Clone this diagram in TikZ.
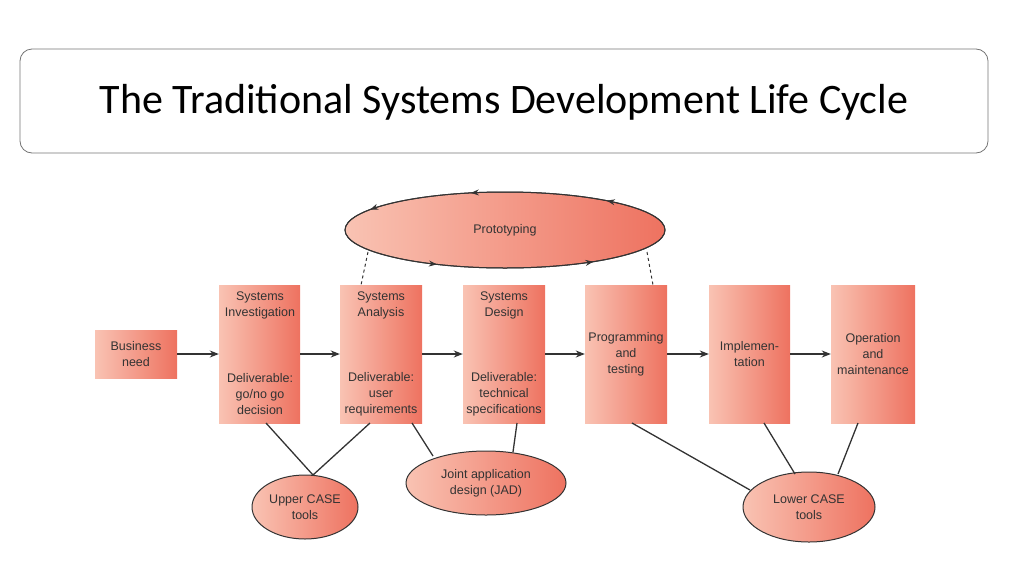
\documentclass[tikz,border=0pt]{standalone}
\usepackage{fontspec}
\setmainfont{Carlito}
\newfontfamily\lab{Liberation Sans}
\usetikzlibrary{arrows.meta,decorations.markings,shapes.geometric}
\definecolor{lite}{HTML}{F9C3B3}
\definecolor{dark}{HTML}{EE7260}
\definecolor{txt}{HTML}{333333}
\tikzset{
 sbox/.style={draw=none,left color=lite,right color=dark,minimum width=#1,inner sep=0pt,font=\lab\fontsize{12.5}{16}\selectfont,text=txt,align=center},
 ell/.style={ellipse,draw=txt,line width=1pt,left color=lite,right color=dark,font=\lab\fontsize{12.5}{16}\selectfont,text=txt,align=center,inner sep=0pt},
 flow/.style={-{Stealth[length=9pt,width=7pt]},line width=1.3pt,draw=txt},
 link/.style={line width=1.3pt,draw=txt}
}
\begin{document}
\begin{tikzpicture}[x=1pt,y=-1pt]
\useasboundingbox (0,0) rectangle (1024,576);
\draw[rounded corners=12pt,draw=black!55,line width=0.8pt] (20,49) rectangle (988,153);
\node (title) at (504,102) {\fontsize{42}{48}\selectfont The Traditional Systems Development Life Cycle};
% prototyping ellipse
\node[ell,minimum width=320pt,minimum height=76pt] (proto) at (505,230) {Prototyping};
\draw[line width=1pt,draw=txt,postaction={decorate},decoration={markings,
 mark=at position 0.1 with {\arrow{Stealth[length=8pt,width=6pt]}},
 mark=at position 0.3 with {\arrow{Stealth[length=8pt,width=6pt]}},
 mark=at position 0.45 with {\arrow{Stealth[length=8pt,width=6pt]}},
 mark=at position 0.65 with {\arrow{Stealth[length=8pt,width=6pt]}},
 mark=at position 0.88 with {\arrow{Stealth[length=8pt,width=6pt]}}}]
 (505,230) ++(0:160) arc[start angle=0,end angle=-360,x radius=160,y radius=38];
% boxes
\node[sbox=82pt,minimum height=48pt] (bn) at (136,354) {Business\\need};
\node[sbox=81pt,minimum height=138pt] (si) at (259.5,354) {};
\node[sbox=82pt,minimum height=138pt] (sa) at (381,354) {};
\node[sbox=82pt,minimum height=138pt] (sd) at (504,354) {};
\node[sbox=82pt,minimum height=138pt] (pt) at (626,354) {Programming\\and\\testing};
\node[sbox=81pt,minimum height=138pt] (im) at (749.5,354) {Implemen-\\tation};
\node[sbox=84pt,minimum height=138pt] (op) at (873,354) {Operation\\and\\maintenance};
\begin{scope}[every node/.style={font=\lab\fontsize{12.5}{16}\selectfont,text=txt,align=center}]
\node (sit) at (260,305) {Systems\\Investigation};
\node (sib) at (260,394) {Deliverable:\\go/no go\\decision};
\node (sat) at (381,305) {Systems\\Analysis};
\node (sab) at (381,394) {Deliverable:\\user\\requirements};
\node (sdt) at (504,305) {Systems\\Design};
\node (sdb) at (504,394) {Deliverable:\\technical\\specifications};
\end{scope}
\draw[flow] (bn) -- (si);
\draw[flow] (si) -- (sa);
\draw[flow] (sa) -- (sd);
\draw[flow] (sd) -- (pt);
\draw[flow] (pt) -- (im);
\draw[flow] (im) -- (op);
\coordinate (d1) at (368,252); \coordinate (d2) at (647,252);
\draw[link,dashed,line width=1pt] (d1) -- (361,285);
\draw[link,dashed,line width=1pt] (d2) -- (653,285);
% tools
\node[ell,minimum width=106pt,minimum height=64pt] (uc) at (305,507) {Upper CASE\\tools};
\node[ell,minimum width=160pt,minimum height=64pt] (jad) at (486,483) {Joint application\\design (JAD)};
\node[ell,minimum width=132pt,minimum height=70pt] (lc) at (809,507) {Lower CASE\\tools};
\draw[link] (266,423) -- (313,475);
\draw[link] (370,423) -- (313,475);
\draw[link] (412,423) -- (433,456);
\draw[link] (517,423) -- (513,452);
\draw[link] (632,423) -- (750,490);
\draw[link] (764,423) -- (795,474);
\draw[link] (858,423) -- (838,474);
\end{tikzpicture}
\end{document}
